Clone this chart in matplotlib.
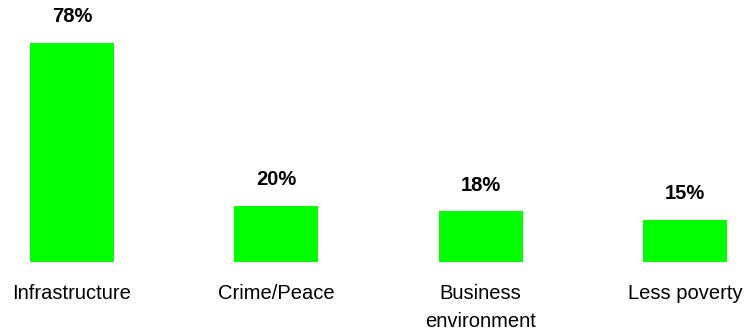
import matplotlib
matplotlib.use("Agg")
import matplotlib.pyplot as plt

categories = ["Infrastructure", "Crime/Peace", "Business\nenvironment", "Less poverty"]
values = [78, 20, 18, 15]
value_labels = ["78%", "20%", "18%", "15%"]

plt.rcParams['font.family'] = ['Liberation Sans', 'DejaVu Sans']

fig = plt.figure(figsize=(7.44, 3.33), dpi=100)
ax = fig.add_axes([0, (333 - 262) / 333, 1, 262 / 333])
x = list(range(len(categories)))
ax.bar(x, values, width=0.411, color="#00FF00")
ax.set_xlim(-0.352, 3.289)
ax.set_ylim(0, 93.2)
for xi, v, lab in zip(x, values, value_labels):
    ax.annotate(lab, (xi, v), xytext=(0, 12), textcoords="offset points",
                ha="center", va="bottom", fontsize=14.5, fontweight="bold")
for xi, c in zip(x, categories):
    ax.annotate(c, (xi, 0), xytext=(0, -15.5), textcoords="offset points",
                ha="center", va="top", fontsize=14.5, linespacing=1.6)
ax.axis("off")
fig.savefig("out.png", dpi=100)
